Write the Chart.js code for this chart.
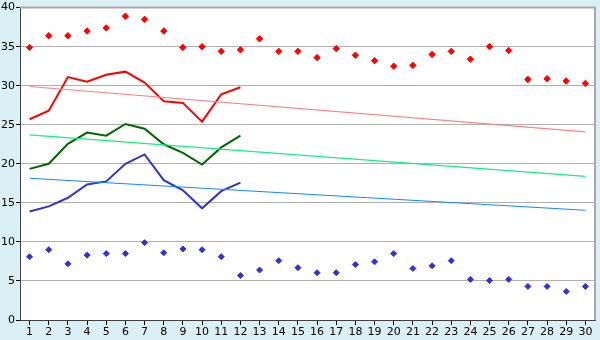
<!DOCTYPE html>
<html>
<head>
<meta charset="utf-8">
<script src="https://cdn.jsdelivr.net/npm/chart.js@4"></script>
<style>
  html, body { margin: 0; padding: 0; background: #daeff6; }
  #wrap { width: 600px; height: 340px; }
</style>
</head>
<body>
<div id="wrap"><canvas id="chart" width="600" height="340"></canvas></div>
<script>
const days = ['1','2','3','4','5','6','7','8','9','10','11','12','13','14','15','16','17','18','19','20','21','22','23','24','25','26','27','28','29','30'];

// daily extremes
const dailyMax = [34.9, 36.4, 36.4, 37.0, 37.4, 38.9, 38.5, 37.0, 34.9, 35.0, 34.4, 34.6, 36.0, 34.4, 34.4,
                  33.6, 34.75, 33.9, 33.2, 32.5, 32.6, 34.0, 34.4, 33.4, 35.0, 34.5, 30.8, 30.9, 30.6, 30.3];
const dailyMin = [8.1, 9.0, 7.2, 8.3, 8.5, 8.5, 9.9, 8.6, 9.1, 9.0, 8.1, 5.7, 6.4, 7.6, 6.7,
                  6.05, 6.05, 7.1, 7.45, 8.5, 6.6, 6.95, 7.6, 5.2, 5.05, 5.2, 4.3, 4.3, 3.65, 4.3];

// monthly series (12 values)
const avgMax  = [25.7, 26.8, 31.1, 30.5, 31.4, 31.8, 30.4, 28.0, 27.8, 25.4, 28.9, 29.8];
const avgMean = [19.35, 20.0, 22.55, 24.0, 23.6, 25.1, 24.5, 22.5, 21.4, 19.9, 22.1, 23.6];
const avgMin  = [13.9, 14.55, 15.65, 17.35, 17.75, 20.0, 21.2, 17.9, 16.6, 14.3, 16.5, 17.6];

// trend lines: value at day 1 and at day 30
const trendMax  = [29.9, 24.1];
const trendMean = [23.7, 18.4];
const trendMin  = [18.15, 14.05];

const yTicks = [0, 5, 10, 15, 20, 25, 30, 35, 40];

function trend(ends) {
  return days.map((d, i) => i === 0 ? ends[0] : (i === days.length - 1 ? ends[1] : null));
}

const plotFrame = {
  id: 'plotFrame',
  beforeDraw(chart) {
    const { ctx, chartArea: a } = chart;
    ctx.save();
    ctx.fillStyle = '#ffffff';
    ctx.fillRect(a.left, a.top, a.right - a.left, a.bottom - a.top);
    ctx.restore();
  },
  afterDraw(chart) {
    const { ctx, chartArea: a } = chart;
    ctx.save();
    ctx.strokeStyle = '#a8a8a8';
    ctx.lineWidth = 2;
    ctx.beginPath();
    ctx.moveTo(a.left, a.top);
    ctx.lineTo(a.right, a.top);
    ctx.lineTo(a.right, a.bottom);
    ctx.stroke();
    ctx.restore();
  }
};

const ctx = document.getElementById('chart');

new Chart(ctx, {
  type: 'line',
  data: {
    labels: days,
    datasets: [
      { data: trend(trendMax), borderColor: '#ff8080', borderWidth: 1.2, pointRadius: 0, spanGaps: true },
      { data: trend(trendMean), borderColor: '#10f080', borderWidth: 1.2, pointRadius: 0, spanGaps: true },
      { data: trend(trendMin), borderColor: '#1088ff', borderWidth: 1.2, pointRadius: 0, spanGaps: true },
      { data: avgMax, borderColor: '#ff0000', borderWidth: 2, pointRadius: 0 },
      { data: avgMean, borderColor: '#006600', borderWidth: 2, pointRadius: 0 },
      { data: avgMin, borderColor: '#3333cc', borderWidth: 2, pointRadius: 0 },
      { data: dailyMax, showLine: false, pointStyle: 'rectRot', pointRadius: 3.2,
        backgroundColor: '#ff0000', borderColor: '#ff0000', borderWidth: 1 },
      { data: dailyMin, showLine: false, pointStyle: 'rectRot', pointRadius: 3,
        backgroundColor: '#3333cc', borderColor: '#3333cc', borderWidth: 1 }
    ]
  },
  options: {
    responsive: false,
    animation: false,
    layout: { padding: { top: 5, right: 5, left: 0, bottom: 0 } },
    plugins: { legend: { display: false }, tooltip: { enabled: false } },
    scales: {
      x: {
        offset: true,
        grid: { display: true, drawOnChartArea: false, tickLength: 5, color: '#000000' },
        border: { color: '#404040', width: 1 },
        ticks: { color: '#000', padding: 1, autoSkip: false, maxRotation: 0,
                 font: { family: 'DejaVu Sans', size: 11 } },
        afterFit(scale) { scale.height = 20; }
      },
      y: {
        min: 0,
        max: 40,
        afterBuildTicks(scale) { scale.ticks = yTicks.map(v => ({ value: v })); },
        grid: { color: '#b0b0b0', tickLength: 4, tickColor: '#000000' },
        border: { color: '#404040', width: 1 },
        ticks: { color: '#000', padding: 1,
                 font: { family: 'DejaVu Sans', size: 11 } },
        afterFit(scale) { scale.width = 20; }
      }
    }
  },
  plugins: [plotFrame]
});
</script>
</body>
</html>
